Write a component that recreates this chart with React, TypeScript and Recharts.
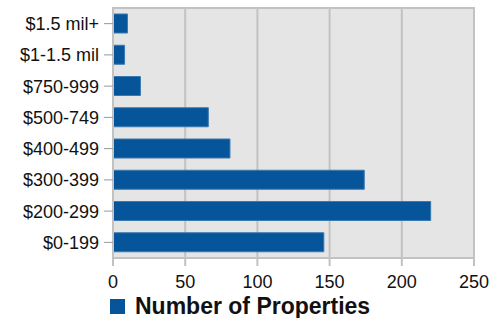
import React from "react";
import { BarChart, Bar, XAxis, YAxis, CartesianGrid, Legend, ReferenceArea } from "recharts";

const priceRanges = ["$0-199", "$200-299", "$300-399", "$400-499", "$500-749", "$750-999", "$1-1.5 mil", "$1.5 mil+"];
const propertyCounts = [146, 220, 174, 81, 66, 19, 8, 10];
const xTicks = [0, 50, 100, 150, 200, 250];

const BAR_COLOR = "#06559a";
const GRID_COLOR = "#c2c2c2";
const FONT = "'Liberation Sans', Arial, sans-serif";

const data = priceRanges.map((range, i) => ({ range, count: propertyCounts[i] }));

const LegendContent = () => (
  <div style={{ display: "flex", alignItems: "center", fontFamily: FONT, height: 24 }}>
    <span style={{ display: "inline-block", width: 15, height: 15, background: BAR_COLOR, marginRight: 10 }} />
    <span style={{ fontSize: 23, fontWeight: "bold", color: "#111", lineHeight: "24px" }}>Number of Properties</span>
  </div>
);

const App = () => {
  return (
    <div style={{ position: "absolute", left: 0, top: 0, width: 492, height: 318, background: "#fff" }}>
      <BarChart
        width={492}
        height={318}
        data={data}
        layout="vertical"
        margin={{ top: 8, right: 18, bottom: 6, left: 0 }}
      >
        <CartesianGrid horizontal={false} stroke={GRID_COLOR} strokeWidth={2} fill="#e5e5e5" />
        <XAxis
          type="number"
          domain={[0, 250]}
          ticks={xTicks}
          tickSize={8}
          tickMargin={9}
          axisLine={{ stroke: GRID_COLOR, strokeWidth: 2 }}
          tickLine={{ stroke: GRID_COLOR, strokeWidth: 2 }}
          tick={{ fill: "#111", fontSize: 18, fontFamily: FONT }}
          height={30}
        />
        <YAxis
          type="category"
          dataKey="range"
          reversed
          width={113}
          tickSize={9}
          tickMargin={5}
          axisLine={{ stroke: GRID_COLOR, strokeWidth: 2 }}
          tickLine={{ stroke: "#999", strokeWidth: 1 }}
          tick={{ fill: "#111", fontSize: 18, fontFamily: FONT }}
          interval={0}
        />
        <ReferenceArea x1={0} x2={250} fill="none" stroke={GRID_COLOR} strokeWidth={2} ifOverflow="extendDomain" />
        <Bar
          dataKey="count"
          fill={BAR_COLOR}
          stroke="#3a78b0"
          strokeWidth={1}
          barSize={19}
          isAnimationActive={false}
        />
        <Legend
          verticalAlign="bottom"
          align="left"
          content={<LegendContent />}
          wrapperStyle={{ left: 110, bottom: 0, width: 370, height: 24 }}
        />
      </BarChart>
    </div>
  );
};

export default App;
